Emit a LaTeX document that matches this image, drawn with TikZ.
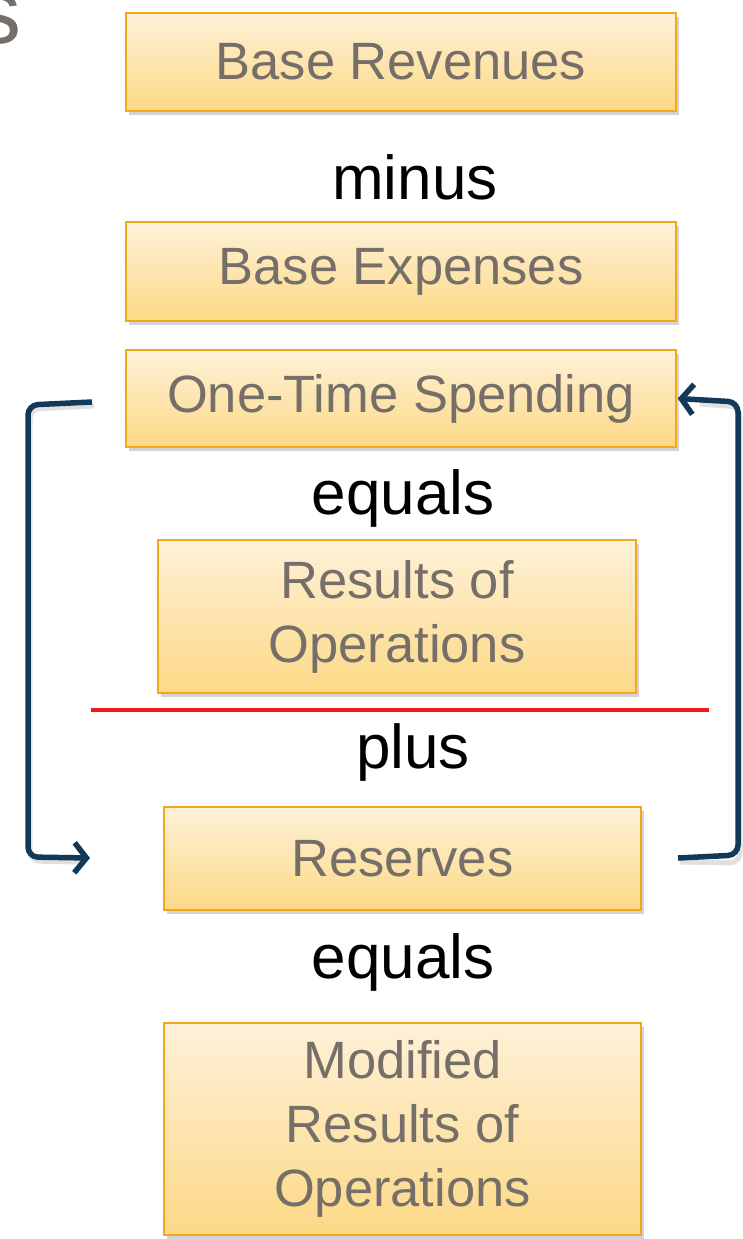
\documentclass[tikz,border=0pt]{standalone}
\usepackage{fontspec}
\setmainfont{Liberation Sans}
\usetikzlibrary{shadows,arrows.meta}
\definecolor{boxtxt}{HTML}{766E68}
\definecolor{boxtop}{HTML}{FEF1D8}
\definecolor{boxbot}{HTML}{FDD986}
\definecolor{boxedge}{HTML}{F2A71E}
\definecolor{navy}{HTML}{12385A}
\definecolor{redline}{HTML}{EE1C1C}
\tikzset{
  fbox/.style={draw=boxedge, line width=1.5pt, top color=boxtop, bottom color=boxbot,
    text=boxtxt, align=center, inner sep=0pt,
    font=\fontsize{52.5}{64}\selectfont,
    drop shadow={shadow xshift=3pt, shadow yshift=-4pt, opacity=0.35, fill=black!50}},
  lbl/.style={text=black, font=\fontsize{62}{70}\selectfont, inner sep=0pt},
  loop/.style={draw=navy, line width=5.5pt, rounded corners=10pt,
    -{Straight Barb[length=12pt,width=30pt,line width=5.5pt]}},
  loopshadow/.style={draw=black!40, opacity=0.3, line width=5pt, rounded corners=10pt}
}
\begin{document}
\begin{tikzpicture}[x=1pt,y=-1pt]
\useasboundingbox (0,0) rectangle (743,1239);
% partial title letter
\node[anchor=base east, text=boxtxt, font=\fontsize{92}{96}\selectfont, inner sep=0pt] (ttl) at (22,44) {s};

\node[fbox, minimum width=550pt, minimum height=98pt] (br) at (401,62) {\raisebox{-3pt}{Base Revenues}};
\node[lbl] (minus) at (415,177) {minus};
\node[fbox, minimum width=550pt, minimum height=99pt] (be) at (401,271.5) {\raisebox{-3pt}{Base Expenses}};
\node[fbox, minimum width=550pt, minimum height=97pt] (ot) at (401,398.5) {One-Time Spending};
\node[lbl] (eq1) at (403,498) {equals};
\node[fbox, minimum width=478pt, minimum height=153pt] (ro) at (397,616.5) {Results of\\Operations};
\coordinate (rl1) at (91,710);
\coordinate (rl2) at (709,710);
\draw[redline, line width=4pt] (rl1) -- (rl2);
\node[lbl] (plus) at (413,752) {plus};
\node[fbox, minimum width=477pt, minimum height=103pt] (rs) at (402.5,858.5) {\raisebox{-2pt}{Reserves}};
\node[lbl] (eq2) at (403,962) {equals};
\node[fbox, minimum width=477pt, minimum height=212pt] (mr) at (402.5,1129) {Modified\\Results of\\Operations};

% loop arrows
\coordinate (ls) at (92,402);
\coordinate (le) at (90,858);
\coordinate (rs0) at (678,858);
\draw[loopshadow] ([xshift=2pt,yshift=-4pt]ls) -- (30,409) -- (30,861) -- ([xshift=-8pt,yshift=-4pt]le);
\draw[loopshadow] ([xshift=2pt,yshift=-4pt]rs0) -- (740,863) -- (740,407) -- (700,404);
\draw[loop] (ls) -- (28,405) -- (28,857) -- (le);
\draw[loop] (rs0) -- (738,855) -- (738,402) -- ([xshift=1pt]ot.east);
\end{tikzpicture}
\end{document}
